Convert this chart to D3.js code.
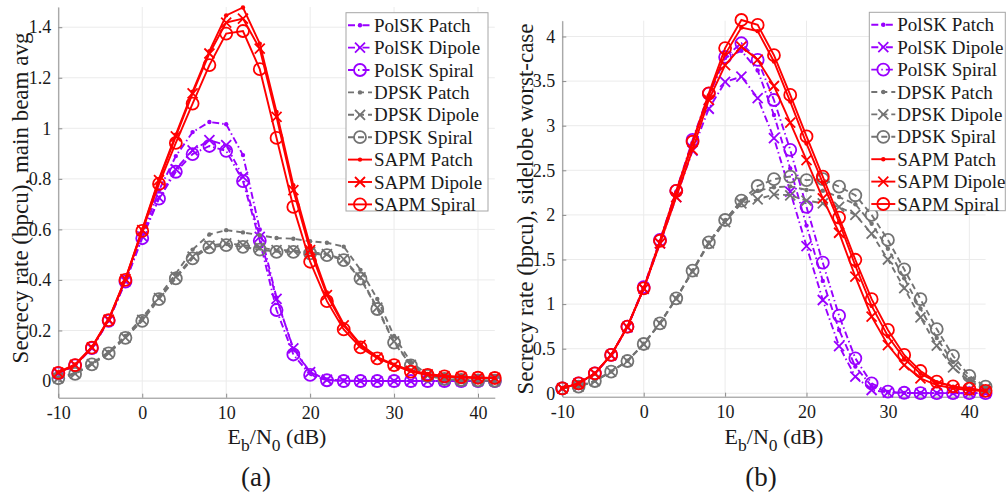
<!DOCTYPE html>
<html>
<head>
<meta charset="utf-8">
<script src="https://cdn.jsdelivr.net/npm/d3@7"></script>
<style>
  body { margin: 0; background: #fff; }
  svg { display: block; }
  text { font-family: "Liberation Serif", "Times New Roman", serif; fill: #1a1a1a; }
</style>
</head>
<body>
<svg id="fig" width="1006" height="495"></svg>
<script>
// Eb/N0 sweep (dB)
const snr = [-10, -8, -6, -4, -2, 0, 2, 4, 6, 8, 10, 12, 14, 16, 18, 20, 22, 24, 26, 28, 30, 32, 34, 36, 38, 40, 42];

// Legend entries (modulation + antenna)
const seriesNames = ["PolSK Patch", "PolSK Dipole", "PolSK Spiral",
                     "DPSK Patch", "DPSK Dipole", "DPSK Spiral",
                     "SAPM Patch", "SAPM Dipole", "SAPM Spiral"];

// Tick values
const xTicks = [-10, 0, 10, 20, 30, 40];
const yTicksMain = [0, 0.2, 0.4, 0.6, 0.8, 1, 1.2, 1.4];
const yTicksSide = [0, 0.5, 1, 1.5, 2, 2.5, 3, 3.5, 4];

// (a) secrecy rate, main beam average
const mainPolskPatch  = [0.03, 0.062, 0.13, 0.24, 0.395, 0.58, 0.755, 0.89, 0.985, 1.025, 1.016, 0.894, 0.60, 0.33, 0.125, 0.035, 0.006, 0.002, 0.001, 0, 0, 0, 0, 0, 0, 0, 0];
const mainPolskDipole = [0.03, 0.062, 0.13, 0.24, 0.395, 0.572, 0.726, 0.838, 0.913, 0.953, 0.933, 0.808, 0.57, 0.325, 0.129, 0.035, 0.005, 0.001, 0, 0, 0, 0, 0, 0, 0, 0, 0];
const mainPolskSpiral = [0.03, 0.062, 0.13, 0.238, 0.393, 0.565, 0.722, 0.828, 0.898, 0.93, 0.911, 0.791, 0.555, 0.281, 0.105, 0.024, 0.003, 0, 0, 0, 0, 0, 0, 0, 0, 0, 0];
const mainDpskPatch   = [0.012, 0.032, 0.07, 0.115, 0.178, 0.25, 0.335, 0.425, 0.52, 0.58, 0.597, 0.588, 0.577, 0.566, 0.563, 0.553, 0.547, 0.532, 0.44, 0.325, 0.178, 0.075, 0.025, 0.01, 0.005, 0.003, 0.002];
const mainDpskDipole  = [0.011, 0.029, 0.067, 0.11, 0.172, 0.242, 0.328, 0.412, 0.492, 0.536, 0.545, 0.538, 0.528, 0.518, 0.517, 0.51, 0.502, 0.482, 0.41, 0.29, 0.157, 0.064, 0.021, 0.008, 0.004, 0.002, 0.001];
const mainDpskSpiral  = [0.011, 0.028, 0.066, 0.109, 0.171, 0.238, 0.324, 0.406, 0.485, 0.529, 0.538, 0.531, 0.52, 0.511, 0.511, 0.505, 0.498, 0.478, 0.405, 0.285, 0.152, 0.062, 0.02, 0.008, 0.004, 0.002, 0.001];
const mainSapmPatch   = [0.035, 0.066, 0.135, 0.245, 0.405, 0.60, 0.80, 0.975, 1.145, 1.305, 1.447, 1.478, 1.335, 1.065, 0.775, 0.535, 0.35, 0.225, 0.145, 0.095, 0.065, 0.042, 0.028, 0.02, 0.016, 0.013, 0.012];
const mainSapmDipole  = [0.033, 0.064, 0.133, 0.243, 0.403, 0.597, 0.795, 0.968, 1.138, 1.296, 1.418, 1.434, 1.315, 1.045, 0.755, 0.518, 0.34, 0.22, 0.142, 0.093, 0.063, 0.04, 0.026, 0.019, 0.015, 0.013, 0.012];
const mainSapmSpiral  = [0.032, 0.063, 0.132, 0.241, 0.40, 0.594, 0.78, 0.942, 1.098, 1.25, 1.375, 1.385, 1.234, 0.962, 0.689, 0.472, 0.316, 0.204, 0.133, 0.09, 0.063, 0.037, 0.024, 0.018, 0.015, 0.013, 0.012];

// (b) secrecy rate, sidelobe worst case
const sidePolskPatch  = [0.056, 0.11, 0.222, 0.428, 0.745, 1.175, 1.70, 2.26, 2.81, 3.33, 3.76, 3.84, 3.62, 3.12, 2.52, 1.88, 1.26, 0.71, 0.30, 0.08, 0.015, 0.005, 0.002, 0.002, 0.002, 0.002, 0.002];
const sidePolskDipole = [0.056, 0.11, 0.22, 0.425, 0.74, 1.17, 1.68, 2.2, 2.72, 3.19, 3.49, 3.55, 3.31, 2.86, 2.26, 1.65, 1.046, 0.53, 0.186, 0.037, 0.01, 0.003, 0.001, 0.001, 0.001, 0.001, 0.001];
const sidePolskSpiral = [0.056, 0.112, 0.224, 0.43, 0.747, 1.19, 1.72, 2.27, 2.84, 3.36, 3.77, 3.924, 3.737, 3.288, 2.73, 2.09, 1.464, 0.87, 0.392, 0.112, 0.02, 0.006, 0.002, 0.002, 0.002, 0.002, 0.002];
const sideDpskPatch   = [0.055, 0.075, 0.14, 0.245, 0.365, 0.555, 0.79, 1.065, 1.375, 1.69, 1.94, 2.16, 2.27, 2.31, 2.32, 2.28, 2.27, 2.2, 2.12, 1.9, 1.62, 1.29, 0.95, 0.62, 0.35, 0.16, 0.065];
const sideDpskDipole  = [0.055, 0.074, 0.138, 0.242, 0.362, 0.55, 0.785, 1.06, 1.365, 1.68, 1.92, 2.13, 2.175, 2.23, 2.22, 2.16, 2.13, 2.09, 2.0, 1.79, 1.50, 1.18, 0.85, 0.535, 0.29, 0.13, 0.056];
const sideDpskSpiral  = [0.056, 0.074, 0.138, 0.242, 0.362, 0.553, 0.785, 1.065, 1.375, 1.693, 1.943, 2.16, 2.324, 2.40, 2.43, 2.39, 2.40, 2.318, 2.22, 2.0, 1.72, 1.39, 1.055, 0.72, 0.42, 0.195, 0.074];
const sideSapmPatch   = [0.056, 0.112, 0.224, 0.43, 0.747, 1.177, 1.70, 2.25, 2.80, 3.34, 3.80, 4.10, 4.06, 3.72, 3.27, 2.80, 2.36, 1.92, 1.43, 0.98, 0.64, 0.39, 0.22, 0.125, 0.075, 0.048, 0.03];
const sideSapmDipole  = [0.056, 0.11, 0.222, 0.428, 0.745, 1.175, 1.68, 2.2, 2.73, 3.29, 3.68, 3.886, 3.74, 3.445, 3.034, 2.615, 2.186, 1.80, 1.307, 0.859, 0.541, 0.317, 0.168, 0.093, 0.055, 0.035, 0.025];
const sideSapmSpiral  = [0.056, 0.112, 0.224, 0.43, 0.747, 1.177, 1.71, 2.27, 2.82, 3.363, 3.87, 4.185, 4.13, 3.79, 3.345, 2.88, 2.43, 1.97, 1.497, 1.055, 0.71, 0.43, 0.25, 0.13, 0.078, 0.052, 0.028];

// Styling per legend entry
const PURPLE = "#9900ff", GRAY = "#737373", RED = "#ff0000";
const styles = [
  { color: PURPLE, dash: "7,3,1.5,3", marker: "dot" },
  { color: PURPLE, dash: "7,3,1.5,3", marker: "x" },
  { color: PURPLE, dash: "7,3,1.5,3", marker: "o" },
  { color: GRAY,   dash: "6,4",       marker: "dot" },
  { color: GRAY,   dash: "6,4",       marker: "x" },
  { color: GRAY,   dash: "6,4",       marker: "o" },
  { color: RED,    dash: null,        marker: "dot" },
  { color: RED,    dash: null,        marker: "x" },
  { color: RED,    dash: null,        marker: "o" }
];

const FONT = '"Liberation Serif", "Times New Roman", serif';
const svg = d3.select("#fig");

function drawMarker(g, kind, cx, cy, color) {
  if (kind === "dot") {
    g.append("circle").attr("cx", cx).attr("cy", cy).attr("r", 2.2).attr("fill", color);
  } else if (kind === "x") {
    const s = 5;
    g.append("path")
      .attr("d", `M${cx - s},${cy - s}L${cx + s},${cy + s}M${cx - s},${cy + s}L${cx + s},${cy - s}`)
      .attr("stroke", color).attr("stroke-width", 1.8).attr("fill", "none");
  } else {
    g.append("circle").attr("cx", cx).attr("cy", cy).attr("r", 6)
      .attr("fill", "none").attr("stroke", color).attr("stroke-width", 1.8);
  }
}

function drawPanel(cfg) {
  const x = d3.scaleLinear().domain([-10, 42]).range(cfg.xRange);
  const y = d3.scaleLinear().domain(cfg.yDomain).range(cfg.yRange);
  const g = svg.append("g");

  // grid
  const grid = g.append("g").attr("stroke", "#ebebeb").attr("stroke-width", 1);
  xTicks.forEach(t => grid.append("line")
    .attr("x1", x(t)).attr("x2", x(t)).attr("y1", cfg.yRange[0]).attr("y2", cfg.yRange[1]));
  cfg.yTicks.forEach(t => grid.append("line")
    .attr("x1", cfg.xRange[0]).attr("x2", cfg.xRange[1]).attr("y1", y(t)).attr("y2", y(t)));

  // axes
  const xAxis = g.append("g").attr("transform", `translate(0,${cfg.yRange[0]})`)
    .call(d3.axisBottom(x).tickValues(xTicks).tickSizeInner(-4).tickSizeOuter(0).tickPadding(9)
      .tickFormat(d => d < 0 ? "-" + Math.abs(d) : d));
  const yAxis = g.append("g").attr("transform", `translate(${cfg.xRange[0]},0)`)
    .call(d3.axisLeft(y).tickValues(cfg.yTicks).tickSizeInner(-4).tickSizeOuter(0).tickPadding(7)
      .tickFormat(d => String(d)));
  [xAxis, yAxis].forEach(a => {
    a.attr("font-family", FONT);
    a.select(".domain").attr("stroke", "#8c8c8c").attr("stroke-width", 1);
    a.selectAll(".tick line").attr("stroke", "#8c8c8c");
    a.selectAll(".tick text").attr("font-size", 18).attr("fill", "#1a1a1a");
  });

  // series
  cfg.series.forEach((vals, i) => {
    const st = styles[i];
    const pts = snr.map((s, k) => [s, vals[k]]);
    const line = d3.line().x(d => x(d[0])).y(d => y(d[1]));
    g.append("path").datum(pts).attr("d", line)
      .attr("fill", "none").attr("stroke", st.color).attr("stroke-width", 1.9)
      .attr("stroke-dasharray", st.dash);
    const mg = g.append("g");
    pts.forEach(p => drawMarker(mg, st.marker, x(p[0]), y(p[1]), st.color));
  });

  // axis labels
  const xl = g.append("text").attr("x", cfg.xLabelX).attr("y", 444)
    .attr("text-anchor", "middle").attr("font-size", 22);
  xl.append("tspan").text("E");
  xl.append("tspan").attr("font-size", 17.5).attr("dy", 7).text("b");
  xl.append("tspan").attr("dy", -7).text("/N");
  xl.append("tspan").attr("font-size", 17.5).attr("dy", 7).text("0");
  xl.append("tspan").attr("dy", -7).text(" (dB)");

  g.append("text")
    .attr("transform", `translate(${cfg.yLabelX},${cfg.yLabelY}) rotate(-90)`)
    .attr("text-anchor", "middle").attr("font-size", 23).text(cfg.yLabel);

  g.append("text").attr("x", cfg.tagX).attr("y", 486)
    .attr("text-anchor", "middle").attr("font-size", 27).text(cfg.tag);

  // legend
  const L = cfg.legend;
  const lg = g.append("g");
  lg.append("rect").attr("x", L.x).attr("y", L.y).attr("width", L.w).attr("height", L.h)
    .attr("fill", "#fff").attr("stroke", "#a6a6a6").attr("stroke-width", 1);
  seriesNames.forEach((name, i) => {
    const st = styles[i];
    const cy = L.y + 12.5 + i * 22.4;
    lg.append("line").attr("x1", L.x + 2).attr("x2", L.x + 26).attr("y1", cy).attr("y2", cy)
      .attr("stroke", st.color).attr("stroke-width", 1.9).attr("stroke-dasharray", st.dash);
    drawMarker(lg, st.marker, L.x + 14, cy, st.color);
    lg.append("text").attr("x", L.x + 28).attr("y", cy + 6.5).attr("font-size", 19).text(name);
  });
}

drawPanel({
  xRange: [58.3, 494.8], yRange: [397.7, 7], yDomain: [-0.066, 1.48], yTicks: yTicksMain,
  series: [mainPolskPatch, mainPolskDipole, mainPolskSpiral, mainDpskPatch, mainDpskDipole,
           mainDpskSpiral, mainSapmPatch, mainSapmDipole, mainSapmSpiral],
  yLabel: "Secrecy rate (bpcu), main beam avg", yLabelX: 28, yLabelY: 198,
  xLabelX: 277, tag: "(a)", tagX: 256,
  legend: { x: 346, y: 12.7, w: 142, h: 198.3 }
});

drawPanel({
  xRange: [562.3, 985.6], yRange: [396.7, 20.7], yDomain: [-0.038, 4.177], yTicks: yTicksSide,
  series: [sidePolskPatch, sidePolskDipole, sidePolskSpiral, sideDpskPatch, sideDpskDipole,
           sideDpskSpiral, sideSapmPatch, sideSapmDipole, sideSapmSpiral],
  yLabel: "Secrecy rate (bpcu), sidelobe worst-case", yLabelX: 533, yLabelY: 209,
  xLabelX: 774, tag: "(b)", tagX: 761,
  legend: { x: 869.3, y: 12.3, w: 136, h: 198.4 }
});
</script>
</body>
</html>
